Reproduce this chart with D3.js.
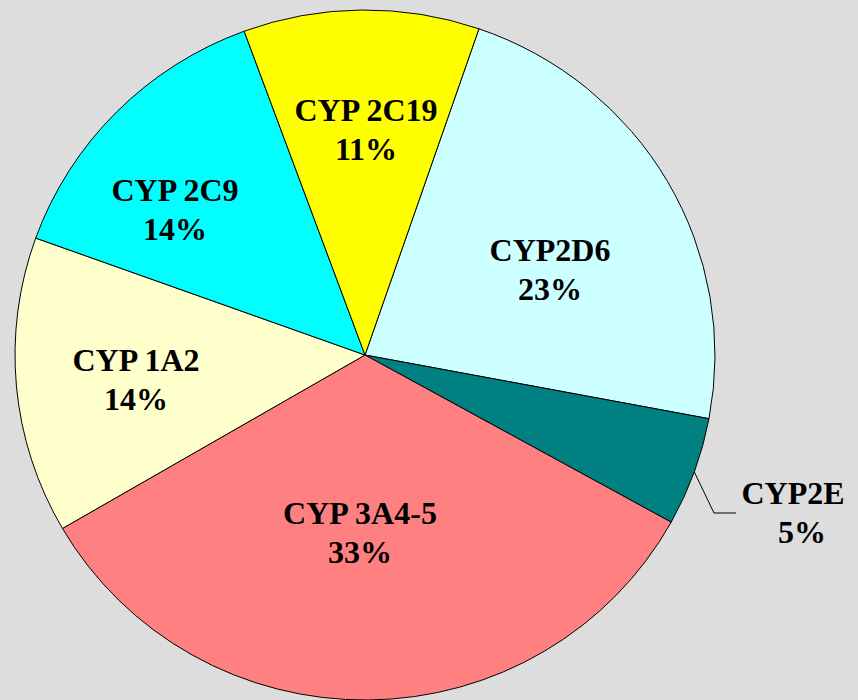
<!DOCTYPE html>
<html>
<head>
<meta charset="utf-8">
<script src="https://cdn.jsdelivr.net/npm/d3@7"></script>
<style>
  html, body { margin: 0; padding: 0; background: #dddddd; }
  svg { display: block; }
</style>
</head>
<body>
<svg id="chart" width="858" height="700"></svg>
<script>
// ---- data ----
const categories = ["CYP2D6", "CYP2E", "CYP 3A4-5", "CYP 1A2", "CYP 2C9", "CYP 2C19"];
const values = [22.7, 5.1, 33.6, 13.9, 13.9, 10.9];   // slice sizes
const percentLabels = ["23%", "5%", "33%", "14%", "14%", "11%"];
const colors = ["#ccffff", "#008080", "#ff8080", "#ffffcc", "#00ffff", "#ffff00"];

// ---- layout ----
const W = 858, H = 700;
const cx = 365, cy = 355, R = 350, yScale = 345 / 350;
const startDeg = 19;

const svg = d3.select("#chart");
svg.append("rect").attr("width", W).attr("height", H).attr("fill", "#dddddd");

const data = categories.map((c, i) => ({ name: c, value: values[i], pct: percentLabels[i], color: colors[i] }));

const pie = d3.pie().value(d => d.value).sort(null)
  .startAngle(startDeg * Math.PI / 180)
  .endAngle(startDeg * Math.PI / 180 + 2 * Math.PI);
const arcs = pie(data);
const arc = d3.arc().innerRadius(0).outerRadius(R);

const g = svg.append("g").attr("transform", `translate(${cx},${cy}) scale(1,${yScale})`);
g.selectAll("path").data(arcs).enter().append("path")
  .attr("d", arc)
  .attr("fill", d => d.data.color)
  .attr("stroke", "#000")
  .attr("stroke-width", 1)
  .attr("vector-effect", "non-scaling-stroke")
  .attr("stroke-linejoin", "round");

// label anchor positions (text centre x, first-line baseline y)
const labelLayout = {
  "CYP2D6":   { x: 550, y: 261, x2: 550 },
  "CYP2E":    { x: 793, y: 504, x2: 802 },
  "CYP 3A4-5":{ x: 360, y: 524, x2: 360 },
  "CYP 1A2":  { x: 136, y: 371, x2: 136 },
  "CYP 2C9":  { x: 175, y: 201, x2: 175 },
  "CYP 2C19": { x: 366, y: 121, x2: 366 }
};

const labels = svg.append("g")
  .attr("font-family", "'Liberation Serif', 'Times New Roman', serif")
  .attr("font-weight", "bold")
  .attr("font-size", 32)
  .attr("fill", "#000")
  .attr("text-anchor", "middle");

arcs.forEach(a => {
  const L = labelLayout[a.data.name];
  labels.append("text").attr("x", L.x).attr("y", L.y).text(a.data.name);
  labels.append("text").attr("x", L.x2).attr("y", L.y + 39).text(a.data.pct);
});

// leader line for the small CYP2E slice
const e = arcs[1];
const mid = (e.startAngle + e.endAngle) / 2;
const p0 = [cx + R * Math.sin(mid), cy - R * Math.cos(mid) * yScale];
svg.append("polyline")
  .attr("points", [p0, [714, 513], [736, 513]].map(p => p.join(",")).join(" "))
  .attr("fill", "none")
  .attr("stroke", "#000")
  .attr("stroke-width", 1);
</script>
</body>
</html>
